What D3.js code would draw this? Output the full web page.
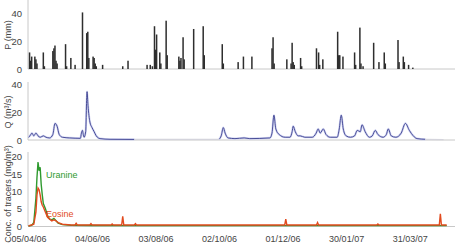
<!DOCTYPE html>
<html><head><meta charset="utf-8">
<script src="https://cdn.jsdelivr.net/npm/d3@7"></script>
<style>body{margin:0;background:#fff}svg{display:block;font-family:"Liberation Sans",Arial,sans-serif}</style>
</head><body><svg id="c" width="455" height="250"></svg>
<script>
// ---- data ----
const startDate = "2006-04-05";
const endDate = "2007-05-10";
const dateTicks = ["05/04/06","04/06/06","03/08/06","02/10/06","01/12/06","30/01/07","31/03/07"];
// rainfall: day offset from start, mm
const rainDay = [1,2,3,6,7,8,14,15,23,24,25,26,27,35,36,40,44,51,55,56,57,61,62,63,64,70,89,94,112,115,117,119,120,121,124,125,130,131,142,143,144,146,147,156,165,166,183,184,198,203,211,230,231,232,244,248,249,250,251,257,258,272,274,275,278,292,293,294,297,308,309,313,314,316,326,331,336,337,349,350,354,355,359,363];
const rainVal = [12,6,9,9,7,4,12,2,13,15,17,6,4,18,2,8,3,41,26,27,8,9,8,4,2,3,2,6,3,3,2,31,14,25,12,4,35,10,9,6,8,23,7,29,31,10,18,4,5,9,9,15,23,4,7,4,19,5,3,8,2,15,12,3,7,27,10,10,9,12,3,30,4,2,19,5,12,4,21,5,9,5,3,1];
// discharge (m3/s)
const qDay1 = [0,1.4,3.3,5,7,9,11,14,16.5,20,23,25,27,29,32,39,49,50,51,51.5,52.5,54,55.3,56.2,58,60,62,64,67.6,77,100];
const qVal1 = [2,3,5,3,5,3,2,3,2,1.5,4,12,10,4,2,1.5,1.2,5,7,5,2,6,35,25,13,9,6,3,1,0.5,0.4];
const qGapDay = [100,180];
const qGapVal = [0.4,0.5];
const qDay2 = [180,182,184,185.7,188.5,195,203.7,209,228,230,231.8,233.6,236.7,242.4,247,249,250,252,254.7,256.6,261,268,271.7,273.6,275.5,278.4,281,285,291.6,293.5,295.4,297.3,300,304,308,310.5,313.4,315,318,322,324.7,327.5,330,335,338,339.8,342.6,347,352,356,359.7,363.4,367,374.8];
const qVal2 = [0.5,3,9,5,1.5,1,1.5,1,1.5,5,18,8,4,2,2,6,10,6,3,3,2,2,5,8,5,8,4,2,2,8,18,8,3,2,3,7,6,11,6,2,3,7,4,2,4,8,3,2,5,12,7,3,1,0.5];
const qTailDay = [374.8,392];
const qTailVal = [0.5,0.3];
// tracers (mg/m3)
const uraDay = [0,3,5,7,8,9,10,11,12,13,14,16,18,20,22,24,26,28,32,40,60,100,200,300,395];
const uraVal = [0,0.2,1,8,14,18.5,16,17,12,9,6.5,5,3,2,1.8,2.2,1.5,0.8,0.4,0.2,0.15,0.1,0.1,0.1,0.1];
const eosDay = [0,5,7,8,9,10,11,12,13,14,16,18,20,22,24,26,28,32,40,44,45,46,50,58,59,60,70,78,79,80,88,89,90,100,101,102,120,242,243,244,272,273,274,329,330,331,388,389,390,395];
const eosVal = [0,0.5,4,9,11,10.5,9,7,6,5.5,4,2.5,2,1.5,1.8,1.5,1,0.5,0.3,0.3,0.8,0.3,0.3,0.3,0.7,0.3,0.3,0.3,0.6,0.3,0.3,2.8,0.3,0.3,0.7,0.3,0.3,0.3,2,0.3,0.3,1,0.3,0.3,0.6,0.3,0.3,3.5,0.3,0.3];

// ---- chart ----
const svg = d3.select("#c");
const t0 = d3.timeParse("%Y-%m-%d")(startDate), t1 = d3.timeParse("%Y-%m-%d")(endDate);
const dayToDate = d => new Date(t0.getTime() + d*86400000);
const x = d3.scaleTime().domain([t0,t1]).range([28.5,452]);
const yP = d3.scaleLinear().domain([0,50]).range([69,0]);
const yQ = d3.scaleLinear().domain([0,42]).range([140,82]);
const yC = d3.scaleLinear().domain([0,21.4]).range([226,152]);
const txt = "#444", axc = "#c8c8c8";

function yAxis(scale, ticks, y0, y1){
  const g = svg.append("g").attr("transform","translate(28,0)");
  g.call(d3.axisLeft(scale).tickValues(ticks).tickSize(0).tickPadding(6));
  g.select(".domain").remove();
  g.append("line").attr("x1",0).attr("x2",0).attr("y1",y0).attr("y2",y1).attr("stroke",axc);
  g.selectAll("text").attr("fill",txt).attr("font-size",9.5).attr("font-family","Liberation Sans, Arial, sans-serif");
}
function base(y){ svg.append("line").attr("x1",28).attr("x2",455).attr("y1",y).attr("y2",y).attr("stroke",axc); }
function title(t, cy){ svg.append("text").attr("transform",`translate(11,${cy}) rotate(-90)`).attr("text-anchor","middle").attr("font-size",9).attr("fill",txt).text(t); }

yAxis(yP,[0,20,40],0,69); base(69);
yAxis(yQ,[0,20,40],82,140); base(140);
yAxis(yC,[0,5,10,15,20],152,226); base(226.5);
title("P (mm)",35); title("Q (m³/s)",112); title("Conc. of tracers (mg/m³)",194);

// rain bars
svg.append("g").selectAll("rect").data(rainDay.map((d,i)=>({d,v:rainVal[i]}))).join("rect")
  .attr("x",d=>x(dayToDate(d.d))-0.75).attr("width",1.5)
  .attr("y",d=>yP(d.v)).attr("height",d=>yP(0)-yP(d.v)).attr("fill","#2e2e2e");

// discharge
const lineQ = d3.line().x(d=>x(dayToDate(d[0]))).y(d=>yQ(d[1]));
const zip = (a,b)=>a.map((d,i)=>[d,b[i]]);
[[qDay1,qVal1],[qDay2,qVal2]].forEach(([a,b])=>{
  svg.append("path").datum(zip(a,b)).attr("d",lineQ.curve(d3.curveMonotoneX)).attr("fill","none").attr("stroke","#d2d5f2").attr("stroke-width",2.2);
  svg.append("path").datum(zip(a,b)).attr("d",lineQ.curve(d3.curveMonotoneX)).attr("fill","none").attr("stroke","#3b3f8f").attr("stroke-width",0.9);
});
[[qGapDay,qGapVal],[qTailDay,qTailVal]].forEach(([a,b])=>{
  svg.append("path").datum(zip(a,b)).attr("d",lineQ.curve(d3.curveLinear)).attr("fill","none").attr("stroke","#d4d4dc").attr("stroke-width",1.2);
});

// tracers
const lineC = d3.line().x(d=>x(dayToDate(d[0]))).y(d=>yC(d[1]));
svg.append("path").datum(zip(uraDay,uraVal)).attr("d",lineC).attr("fill","none").attr("stroke","#2f9a2f").attr("stroke-width",1.4);
svg.append("path").datum(zip(eosDay,eosVal)).attr("d",lineC).attr("fill","none").attr("stroke","#e24a1e").attr("stroke-width",1.4);
svg.append("text").attr("x",46).attr("y",178).attr("font-size",9).attr("fill","#2f9a2f").text("Uranine");
svg.append("text").attr("x",46).attr("y",217).attr("font-size",9).attr("fill","#e24a1e").text("Eosine");

// x axis labels
const fmt = d3.timeParse("%d/%m/%y");
const gx = svg.append("g").attr("transform","translate(0,232)");
gx.call(d3.axisBottom(x).tickValues(dateTicks.map(fmt)).tickFormat(d3.timeFormat("%d/%m/%y")).tickSize(0).tickPadding(4));
gx.select(".domain").remove();
gx.selectAll("text").attr("fill",txt).attr("font-size",9).attr("font-family","Liberation Sans, Arial, sans-serif");
</script></body></html>
